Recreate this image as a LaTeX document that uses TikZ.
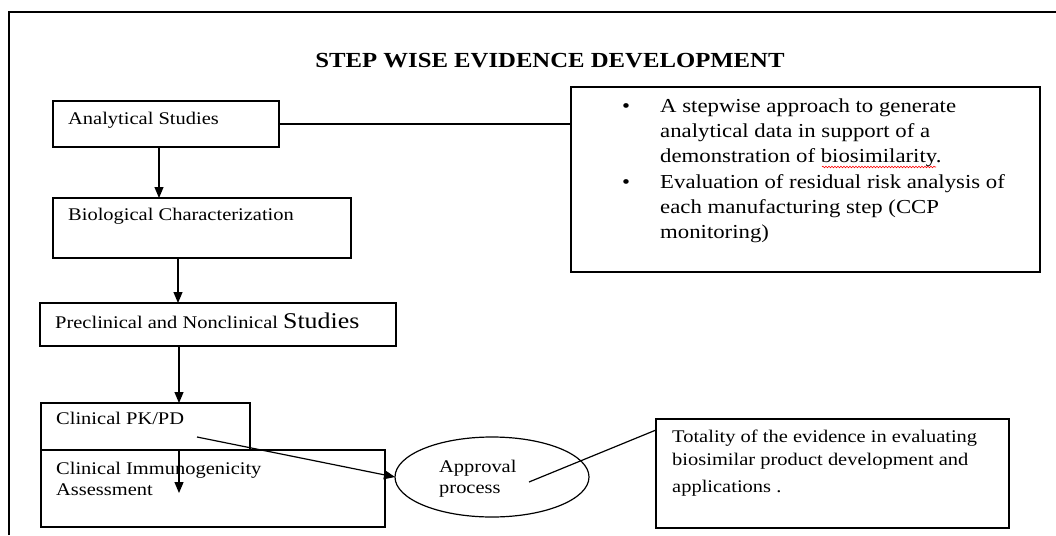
\documentclass[tikz,border=0pt]{standalone}
\usepackage{fontspec}
\setmainfont{Liberation Serif}[FakeStretch=1.15]
\usetikzlibrary{arrows.meta,shapes.geometric,decorations.pathmorphing}

\begin{document}
\begin{tikzpicture}[x=1pt,y=-1pt,
    stepbox/.style={draw, line width=1.2pt, inner sep=0pt, outer sep=0pt},
    steptext/.style={anchor=base west, inner sep=0pt, font=\fontsize{17.8}{21}\selectfont},
    notetext/.style={anchor=base west, inner sep=0pt, font=\fontsize{19.8}{24}\selectfont},
    arr/.style={line width=1.2pt, -{Triangle[width=9pt,length=11pt]}},
    link/.style={line width=1.2pt}]
     \useasboundingbox (0,0) rectangle (1056,535);
     \draw[link] (9,535) -- (9,12) -- (1056,12);
     \node[anchor=base, inner sep=0pt, font=\bfseries\fontsize{21.5}{24}\selectfont] (title) at (550,67) {STEP WISE EVIDENCE DEVELOPMENT};
     % steps
     \node[stepbox, minimum width=226pt, minimum height=46pt] (ana)  at (166,124)   {};
     \node[stepbox, minimum width=298pt, minimum height=60pt] (bio)  at (202,228)   {};
     \node[stepbox, minimum width=356pt, minimum height=43pt] (pre)  at (218,324.5) {};
     \node[stepbox, minimum width=209pt, minimum height=47pt] (pk)   at (145.5,426.5) {};
     \node[stepbox, minimum width=344pt, minimum height=77pt] (imm)  at (213,488.5) {};
     \node[stepbox, ellipse, minimum width=194pt, minimum height=80pt] (approval) at (492,477) {};
     \node[stepbox, minimum width=469pt, minimum height=185pt] (evid) at (805.5,179.5) {};
     \node[stepbox, minimum width=353pt, minimum height=109pt] (tot)  at (832.5,473.5) {};
     % texts
     \node[steptext] (anatxt) at (68,124) {Analytical Studies};
     \node[steptext] (biotxt) at (68,220) {Biological Characterization};
     \node[steptext] (pretxt) at (55,328) {Preclinical and Nonclinical {\fontsize{22.5}{24}\selectfont Studies}};
     \node[steptext] (pktxt)  at (56,424) {Clinical PK/PD};
     \node[steptext] (immtxt) at (56,474) {Clinical Immunogenicity};
     \node[steptext] (asstxt) at (56,495) {Assessment};
     \node[steptext] (aptxt)  at (439,472) {Approval};
     \node[steptext] (prctxt) at (439,493) {process};
     \node[notetext] (bulA)  at (622,112) {\textbullet};
     \node[notetext] (evA)   at (660,112) {A stepwise approach to generate};
     \node[notetext] (evB)   at (660,137) {analytical data in support of a};
     \node[notetext] (evC)   at (660,162) {demonstration of biosimilarity.};
     \node[notetext] (bulB)  at (622,188) {\textbullet};
     \node[notetext] (evD)   at (660,188) {Evaluation of residual risk analysis of};
     \node[notetext] (evE)   at (660,213) {each manufacturing step (CCP};
     \node[notetext] (evF)   at (660,238) {monitoring)};
     \node[steptext] (totA)  at (672,442) {Totality of the evidence in evaluating};
     \node[steptext] (totB)  at (672,465) {biosimilar product development and};
     \node[steptext] (totC)  at (672,492) {applications .};
     \draw[red, line width=0.6pt, decorate, decoration={snake, amplitude=0.8pt, segment length=3pt}] (822,167) -- (936,167);
     % connectors
     \coordinate (immtip) at (179,493);
     \coordinate (pkend)  at (197,437);
     \coordinate (aptail) at (529,482);
     \draw[link] (ana.east) -- (ana.east -| evid.west);
     \draw[arr] (ana.south -| 159,0) -- (bio.north -| 159,0);
     \draw[arr] (bio.south -| 178,0) -- (pre.north -| 178,0);
     \draw[arr] (pre.south -| 179,0) -- (pk.north -| 179,0);
     \draw[arr] (pk.south -| 179,0) -- (immtip);
     \draw[arr] (pkend) -- (approval.west);
     \draw[link] (aptail) -- ([yshift=-11pt]tot.north west);
    \end{tikzpicture}
\end{document}
